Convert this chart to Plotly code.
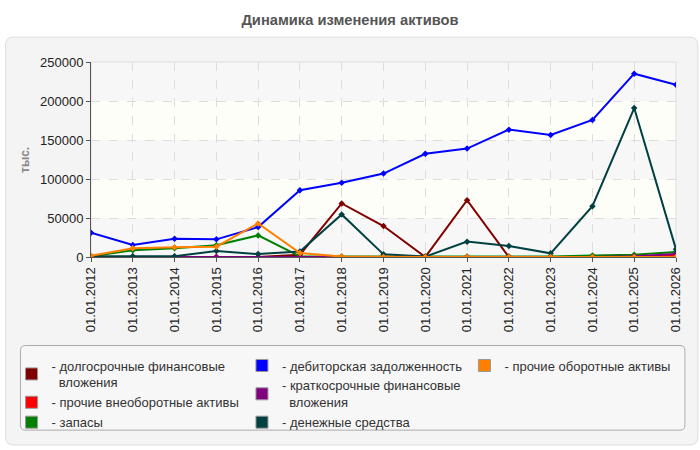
import plotly.graph_objects as go

dates = ["01.01.%d" % y for y in range(2012, 2027)]

dolgosr = [0, 0, 0, 0, 0, 3000, 68700, 39700, 0, 72900, 0, 0, 0, 0, 0]
proch_vneob = [0, 0, 0, 0, 0, 0, 0, 0, 0, 0, 0, 0, 0, 0, 2500]
zapasy = [1000, 8500, 11100, 15000, 27700, 800, 700, 600, 600, 700, 700, 800, 1800, 3000, 6500]
debitor = [31200, 15300, 23500, 22600, 38400, 85700, 95100, 107000, 132300, 139000, 163300, 156500, 175700, 235000, 220900]
kratkosr = [0, 0, 0, 0, 0, 0, 0, 0, 0, 0, 0, 0, 0, 1000, 4000]
denezhn = [1000, 1000, 1000, 7600, 3800, 7000, 54600, 3400, 500, 19700, 14100, 4700, 65200, 191000, 9800]
proch_ob = [1500, 11100, 12400, 13300, 43100, 5000, 500, 0, 0, 0, 0, 0, 0, 0, 0]

series = [
    ("долгосрочные финансовые<br>&nbsp;&nbsp;вложения", dolgosr, "#800000", "legend"),
    ("прочие внеоборотные активы", proch_vneob, "#ff0000", "legend"),
    ("запасы", zapasy, "#008000", "legend"),
    ("дебиторская задолженность", debitor, "#0000ff", "legend2"),
    ("краткосрочные финансовые<br>&nbsp;&nbsp;вложения", kratkosr, "#800080", "legend2"),
    ("денежные средства", denezhn, "#004040", "legend2"),
    ("прочие оборотные активы", proch_ob, "#ff8000", "legend3"),
]

W, H = 700, 450
L, R, T, B = 87, 24, 62, 192
PW, PH = W - L - R, H - T - B


def px_x(px):
    return (px - L) / PW


def px_y(py):
    return (H - B - py) / PH


def rounded(x0, y0, x1, y1, r):
    rx, ry = r / PW, r / PH
    a, b, c, d = px_x(x0), px_x(x1), px_y(y0), px_y(y1)
    return (f"M {a+rx},{c} L {b-rx},{c} Q {b},{c} {b},{c-ry} L {b},{d+ry} Q {b},{d} {b-rx},{d} "
            f"L {a+rx},{d} Q {a},{d} {a},{d+ry} L {a},{c-ry} Q {a},{c} {a+rx},{c} Z")


fig = go.Figure()

for name, vals, color, lg in series:
    fig.add_trace(go.Scatter(
        x=dates, y=vals, mode="lines+markers", name=name.replace("<br>&nbsp;&nbsp;", " "),
        line=dict(color=color, width=2),
        marker=dict(symbol="diamond", size=5, color=color),
        showlegend=False,
    ))

for name, vals, color, lg in series:
    fig.add_trace(go.Bar(
        x=[None], y=[None], name="- " + name, legend=lg,
        marker=dict(color=color, line=dict(color="#999999", width=1)),
        showlegend=True,
    ))

shapes = [
    dict(type="path", xref="paper", yref="paper", path=rounded(1, 37, 698, 447, 8),
         fillcolor="#f4f4f4", line=dict(color="#dddddd", width=1), layer="below"),
    dict(type="path", xref="paper", yref="paper", path=rounded(16, 347, 685, 432, 5),
         fillcolor="#f7f7f7", line=dict(color="#aaaaaa", width=1), layer="below"),
]
band_cols = ["#f7f7f7", "#fefef8", "#f7f7f7", "#fefef8", "#f7f7f7"]
ticks = [0, 50000, 100000, 150000, 200000, 250000]
for i, c in enumerate(band_cols):
    shapes.append(dict(type="rect", xref="paper", yref="y", x0=0, x1=1,
                       y0=ticks[i], y1=ticks[i + 1], fillcolor=c, line=dict(width=0), layer="below"))
shapes.append(dict(type="rect", xref="paper", yref="paper", x0=0, x1=1, y0=0, y1=1,
                   fillcolor="rgba(0,0,0,0)", line=dict(color="#dddddd", width=1), layer="below"))

leg_common = dict(bgcolor="rgba(0,0,0,0)", borderwidth=0, yanchor="top", xanchor="left",
                  font=dict(family="Liberation Sans, Arial", size=13, color="#333333"),
                  tracegroupgap=0, itemclick=False, itemwidth=30)

fig.update_layout(
    width=W, height=H,
    margin=dict(l=L, r=R, t=T, b=B),
    paper_bgcolor="white", plot_bgcolor="rgba(0,0,0,0)",
    font=dict(family="Liberation Sans, Arial", size=13, color="#222222"),
    title=dict(text="<b>Динамика изменения активов</b>", x=0.5, xref="container", xanchor="center",
               y=1 - 20 / H, yref="container", yanchor="middle",
               font=dict(size=14.7, color="#555555")),
    shapes=shapes,
    showlegend=True,
    legend=dict(x=px_x(7), y=px_y(352), **leg_common),
    legend2=dict(x=px_x(239), y=px_y(352), **leg_common),
    legend3=dict(x=px_x(463), y=px_y(352), **leg_common),
    annotations=[dict(text="<b>тыс.</b>", xref="paper", yref="paper", x=px_x(20), y=0.5,
                      xanchor="center", yanchor="middle",
                      textangle=-90, showarrow=False, font=dict(size=12, color="#888888"))],
    xaxis=dict(type="category", range=[0, len(dates) - 1], tickangle=-90,
               showgrid=True, gridcolor="#dddddd", griddash="dash",
               showline=True, linecolor="#555555", ticks="outside", ticklen=4, tickcolor="#555555",
               tickfont=dict(size=13, color="#222222")),
    yaxis=dict(range=[0, 250000], dtick=50000, tickformat="d",
               showgrid=True, gridcolor="#dddddd", griddash="dash",
               showline=True, linecolor="#555555", ticks="outside", ticklen=4, tickcolor="#555555",
               tickfont=dict(size=13, color="#222222"), zeroline=False),
)

fig.write_html("out.html")
